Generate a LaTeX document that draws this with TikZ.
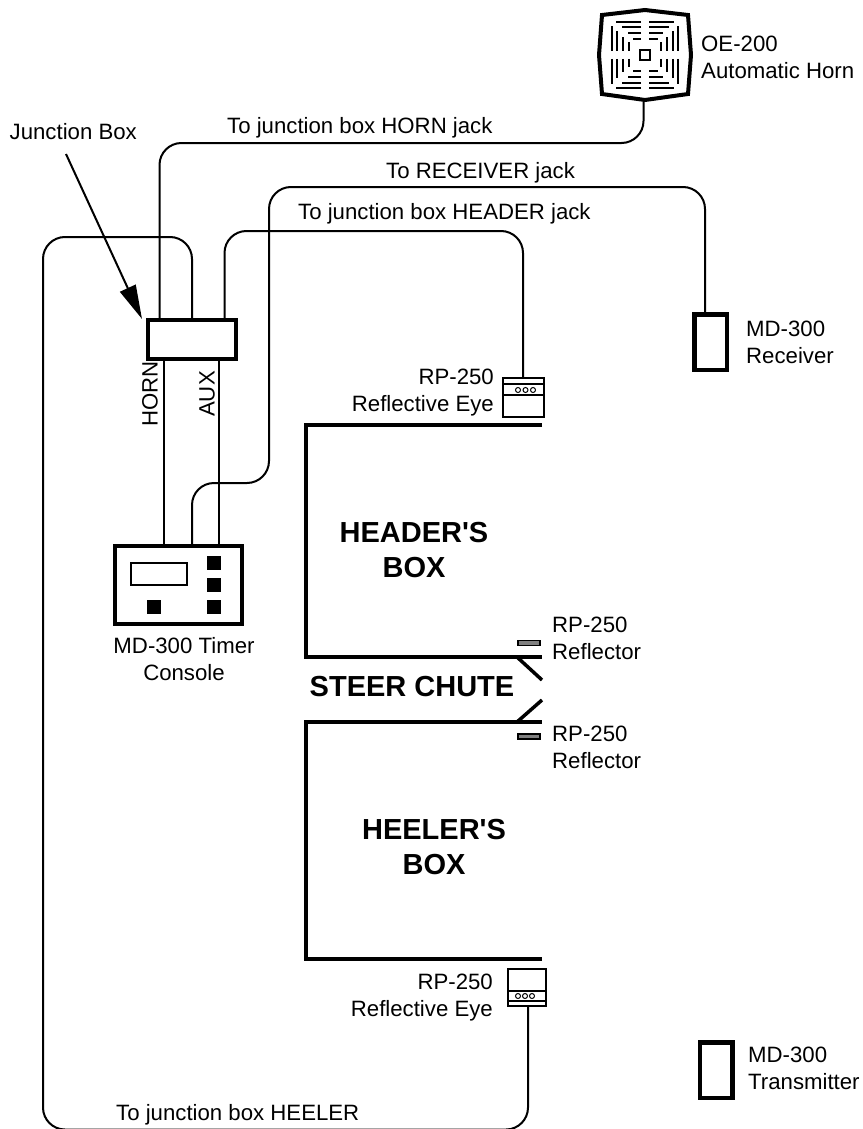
\documentclass[tikz,border=0pt]{standalone}
\usepackage{fontspec}
\setmainfont{Liberation Sans}
\newfontfamily\plainf{Liberation Sans}
\usetikzlibrary{arrows.meta}
\tikzset{
  x=1pt,y=-1pt,
  wire/.style={line width=2pt,rounded corners=22pt},
  heavy/.style={line width=4pt,line cap=butt},
  lab/.style={font=\fontsize{22.2}{27}\selectfont,align=center,inner sep=0pt},
  big/.style={font=\fontsize{29}{35}\plainf\bfseries,align=center,inner sep=0pt},
  refl/.style={draw,fill=gray,line width=1.8pt,inner sep=0pt,minimum width=22pt,minimum height=5pt},
  sq/.style={fill=black,inner sep=0pt,minimum width=14pt,minimum height=14pt},
  dot/.style={circle,draw,line width=1pt,inner sep=0pt,minimum size=5pt},
  devbox/.style={draw,line width=4.5pt,inner sep=0pt,minimum width=32.5pt,minimum height=55.5pt},
}
\begin{document}
\begin{tikzpicture}
\useasboundingbox (0,0) rectangle (862,1129);
\clip (0,0) rectangle (862,1129);
% horn
\coordinate (hornc) at (645,55);
\draw[line width=4pt,line join=miter] (645,10) -- (688,15) -- (691,55) -- (688,94) -- (645,100) -- (602,94) -- (599,55) -- (602,15) -- cycle;
\foreach \a in {0,90,180,270}{
 \begin{scope}[shift={(hornc)},rotate=\a,line width=1.8pt]
  \draw (4,-33) -- (29,-33); \draw (-4,-33) -- (-29,-33);
  \draw (4,-28) -- (23.5,-28); \draw (-4,-28) -- (-23.5,-28);
  \draw (4,-22) -- (17.5,-22); \draw (-4,-22) -- (-17.5,-22);
  \draw (4,-16) -- (12.5,-16); \draw (-4,-16) -- (-12.5,-16);
 \end{scope}}
\node[draw,line width=2.2pt,inner sep=0pt,minimum size=10pt] (hornsq) at (hornc) {};
% junction box and console
\node[draw,line width=4.4pt,inner sep=0pt,minimum width=88pt,minimum height=39pt] (jbox) at (192,339.5) {};
\node[draw,line width=4.4pt,inner sep=0pt,minimum width=127pt,minimum height=78pt] (timer) at (178.5,585) {};
\node[draw,line width=2pt,inner sep=0pt,minimum width=56pt,minimum height=22pt] (disp) at (159,574) {};
\node[sq] (s1) at (214,562.5) {};
\node[sq] (s2) at (214,585) {};
\node[sq] (s3) at (214,607) {};
\node[sq] (s4) at (153.5,607) {};
% eyes
\node[draw,line width=2pt,inner sep=0pt,minimum width=41pt,minimum height=39pt] (eyetop) at (523.5,397.5) {};
\draw[line width=1.5pt] (503,384) -- (544,384) (503,395) -- (544,395);
\node[dot] (d1) at (518,390) {}; \node[dot] (d2) at (525.5,390) {}; \node[dot] (d3) at (533,390) {};
\node[draw,line width=2.4pt,inner sep=0pt,minimum width=38pt,minimum height=37pt] (eyebot) at (527,987.5) {};
\draw[line width=1.5pt] (508,991) -- (546,991) (508,1001) -- (546,1001);
\node[dot] (e1) at (518,996) {}; \node[dot] (e2) at (525,996) {}; \node[dot] (e3) at (532,996) {};
% receiver, transmitter
\node[devbox] (rx) at (710.5,342) {};
\node[devbox] (tx) at (716,1070) {};
% wires
\draw[wire] (643.5,100) -- (643.5,143) -- (159.5,143) -- (159.5,318);
\draw[wire] (705,312) -- (705,187) -- (269,187) -- (269,483) -- (192,483) -- (192,546);
\draw[wire] (224.5,318) -- (224.5,231) -- (523,231) -- (523,377);
\draw[wire] (192,318) -- (192,237) -- (43,237) -- (43,1129.5) -- (528,1129.5) -- (528,1007);
\draw[line width=2pt] (164,361) -- (164,544);
\draw[line width=2pt] (219,361) -- (219,544);
% arrow
\coordinate (arrs) at (66,154);
\coordinate (arrt) at (142,319);
\draw[line width=2pt,-{Triangle[length=34pt,width=17pt]}] (arrs) -- (arrt);
% box walls
\draw[heavy] (542,425) -- (306,425) -- (306,657) -- (542,657);
\draw[heavy] (542,959) -- (306,959) -- (306,722) -- (542,722);
\draw[line width=3.5pt] (517,657) -- (542,680);
\draw[line width=3.5pt] (517,722) -- (542,700);
\node[refl] (r1) at (529,643) {};
\node[refl] (r2) at (529,736.5) {};
% labels
\node[lab,anchor=east] (tjb) at (137,132) {Junction Box};
\node[lab,anchor=west] (t1) at (227,128) {To junction box HORN jack};
\node[lab,anchor=west] (t2) at (386,173) {To RECEIVER jack};
\node[lab,anchor=west] (t3) at (298,214) {To junction box HEADER jack};
\node[lab,anchor=west] (t4) at (116,1115) {To junction box HEELER};
\node[lab,align=left,anchor=west] (t5) at (701,57) {OE-200\\Automatic Horn};
\node[lab,align=left,anchor=west] (t6) at (746,342) {MD-300\\Receiver};
\node[lab,align=left,anchor=west] (t7) at (748,1068.5) {MD-300\\Transmitter};
\node[lab,align=right,anchor=east] (t8) at (494,393) {RP-250\\Reflective Eye};
\node[lab,align=right,anchor=east] (t9) at (493,997.5) {RP-250\\Reflective Eye};
\node[lab,align=left,anchor=west] (t10) at (552,638) {RP-250\\Reflector};
\node[lab,align=left,anchor=west] (t11) at (552,747.5) {RP-250\\Reflector};
\node[lab] (t12) at (184,659) {MD-300 Timer\\Console};
\node[lab,rotate=90] (t13) at (150,394) {HORN};
\node[lab,rotate=90] (t14) at (207,394) {AUX};
\node[big] (b1) at (414,550) {HEADER'S\\BOX};
\node[big] (b2) at (434,847) {HEELER'S\\BOX};
\node[big] (b3) at (412,687) {STEER CHUTE};
\end{tikzpicture}
\end{document}
